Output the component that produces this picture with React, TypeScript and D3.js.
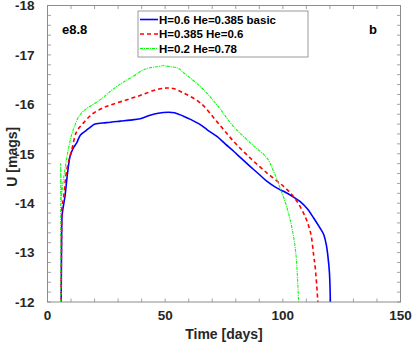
import React from "react";
import * as d3 from "d3";

// light curves: [days, U mag]
const basic: [number, number][] = [
  [5.8, -12], [6.0, -13.3], [6.2, -13.75], [6.6, -13.9], [7.4, -14.13], [8.5, -14.6],
  [9.6, -14.95], [11, -15.12], [12.4, -15.22], [14, -15.38], [16.4, -15.47], [18, -15.53],
  [20.2, -15.6], [25, -15.63], [30.9, -15.66], [35, -15.68], [39.4, -15.71], [43.6, -15.78],
  [47, -15.82], [51.4, -15.84], [54, -15.83], [57.8, -15.76], [61, -15.69], [64.9, -15.59],
  [68, -15.48], [72, -15.35], [75.5, -15.2], [79.1, -15.05], [82.5, -14.9], [86.2, -14.74],
  [90, -14.58], [93.3, -14.44], [97, -14.32], [100.3, -14.24], [104, -14.14], [107.4, -14.03],
  [110.5, -13.88], [113.1, -13.7], [115.5, -13.52], [117.4, -13.36], [118.5, -13.15],
  [119.1, -12.95], [119.8, -12.6], [120.2, -12],
];
const heRich: [number, number][] = [
  [5.8, -12], [6.0, -13.5], [6.2, -13.95], [6.8, -14.1], [8.2, -14.68], [10.3, -15.08],
  [12.4, -15.45], [15.2, -15.62], [19.5, -15.82], [25.2, -15.96], [32.3, -16.07],
  [39.4, -16.18], [46.5, -16.3], [50.7, -16.33], [53.5, -16.32], [57.8, -16.23],
  [64.9, -16.03], [72, -15.65], [79.1, -15.25], [86.2, -14.91], [93.3, -14.61],
  [100.3, -14.34], [104.6, -14.13], [108.8, -13.8], [111.7, -13.42], [113.1, -12.95],
  [113.8, -12.68], [114.9, -12],
];
const heMost: [number, number][] = [
  [5.6, -12], [5.62, -14.8], [5.9, -14.05], [6.3, -14.3], [7.4, -14.68], [8.8, -15.08],
  [11, -15.49], [15.2, -15.86], [22.3, -16.09], [29.4, -16.36], [36.5, -16.57],
  [43.6, -16.74], [49.3, -16.79], [55, -16.74], [57.8, -16.64], [64.9, -16.36],
  [72, -15.99], [79.1, -15.55], [86.2, -15.22], [93.3, -14.91], [96.1, -14.64],
  [98.9, -14.3], [101.8, -13.9], [103.9, -13.49], [105.6, -12.95], [106, -12.68],
  [106.7, -12],
];

const seriesNames = ["H=0.6 He=0.385 basic", "H=0.385 He=0.6", "H=0.2 He=0.78"];
const xTicks = [0, 50, 100, 150];
const yTicks = [-18, -17, -16, -15, -14, -13, -12];

const width = 415;
const height = 343;
const margin = { top: 5.5, right: 14.5, bottom: 41, left: 47.5 };

const App = () => {
  const x = d3.scaleLinear().domain([0, 150]).range([margin.left, width - margin.right]);
  const y = d3.scaleLinear().domain([-18, -12]).range([margin.top, height - margin.bottom]);

  const line = d3
    .line<[number, number]>()
    .x((d) => x(d[0]))
    .y((d) => y(d[1]))
    .curve(d3.curveMonotoneY);
  const smooth = d3
    .line<[number, number]>()
    .x((d) => x(d[0]))
    .y((d) => y(d[1]))
    .curve(d3.curveCatmullRom.alpha(0.5));

  const series = [
    { data: basic, color: "#0000ff", width: 1.6, dash: "none" },
    { data: heRich, color: "#ff0000", width: 1.6, dash: "4,3" },
    { data: heMost, color: "#00ff00", width: 1.1, dash: "3,1,1,1" },
  ];

  const xMinor = d3.range(0, 151, 10);
  const yMinor = d3.range(-18, -11.99, 0.2);
  const x0 = margin.left;
  const x1 = width - margin.right;
  const y0 = margin.top;
  const y1 = height - margin.bottom;
  const tickCol = "#8c8c8c";
  const textCol = "#262626";
  const font = "'Liberation Sans', Arial, Helvetica, sans-serif";

  // legend placement
  const lg = { x: 138, y: 11, w: 170, h: 46 };
  const rowY = [19.5, 34, 48.5];

  return (
    <svg
      width={width}
      height={height}
      style={{ position: "absolute", left: 0, top: 0, background: "#fff" }}
      fontFamily={font}
    >
      <rect x={0} y={0} width={width} height={height} fill="#fff" />

      {/* minor/major ticks on all sides, pointing in */}
      <g stroke={tickCol} strokeWidth={0.8}>
        {xMinor.map((t) => (
          <g key={"xt" + t}>
            <line x1={x(t)} x2={x(t)} y1={y1} y2={y1 - 3.5} />
            <line x1={x(t)} x2={x(t)} y1={y0} y2={y0 + 3.5} />
          </g>
        ))}
        {yMinor.map((t, i) => (
          <g key={"yt" + i}>
            <line x1={x0} x2={x0 + 3.5} y1={y(t)} y2={y(t)} />
            <line x1={x1} x2={x1 - 3.5} y1={y(t)} y2={y(t)} />
          </g>
        ))}
      </g>

      {series.map((s, i) => (
        <path
          key={i}
          d={(i === 2 ? line : smooth)(s.data) || ""}
          fill="none"
          stroke={s.color}
          strokeWidth={s.width}
          strokeDasharray={s.dash}
          strokeLinejoin="round"
        />
      ))}

      <rect x={x0} y={y0} width={x1 - x0} height={y1 - y0} fill="none" stroke={tickCol} strokeWidth={1} />

      {yTicks.map((t) => (
        <text
          key={"yl" + t}
          x={x0 - 13}
          y={y(t)}
          dy="0.36em"
          textAnchor="end"
          fontSize={13.5}
          fontWeight="bold"
          fill={textCol}
        >
          {t}
        </text>
      ))}
      {xTicks.map((t) => (
        <text
          key={"xl" + t}
          x={x(t)}
          y={y1 + 18}
          textAnchor="middle"
          fontSize={13.5}
          fontWeight="bold"
          fill={textCol}
        >
          {t}
        </text>
      ))}

      <text x={(x0 + x1) / 2} y={339} textAnchor="middle" fontSize={14} fontWeight="bold" fill={textCol}>
        Time [days]
      </text>
      <text
        transform={`translate(17, ${(y0 + y1) / 2 + 3}) rotate(-90)`}
        textAnchor="middle"
        fontSize={14}
        fontWeight="bold"
        fill={textCol}
      >
        U [mags]
      </text>

      <text x={62} y={34} fontSize={13} fontWeight="bold" fill="#000">
        e8.8
      </text>
      <text x={369} y={34} fontSize={13} fontWeight="bold" fill="#000">
        b
      </text>

      <rect x={lg.x} y={lg.y} width={lg.w} height={lg.h} fill="#fff" stroke="#9a9a9a" strokeWidth={1} />
      {series.map((s, i) => (
        <g key={"lg" + i}>
          <line
            x1={lg.x + 2}
            x2={lg.x + 20}
            y1={rowY[i]}
            y2={rowY[i]}
            stroke={s.color}
            strokeWidth={s.width}
            strokeDasharray={s.dash}
          />
          <text x={lg.x + 21} y={rowY[i]} dy="0.36em" fontSize={11.5} fontWeight="bold" fill="#000">
            {seriesNames[i]}
          </text>
        </g>
      ))}
    </svg>
  );
};

export default App;
